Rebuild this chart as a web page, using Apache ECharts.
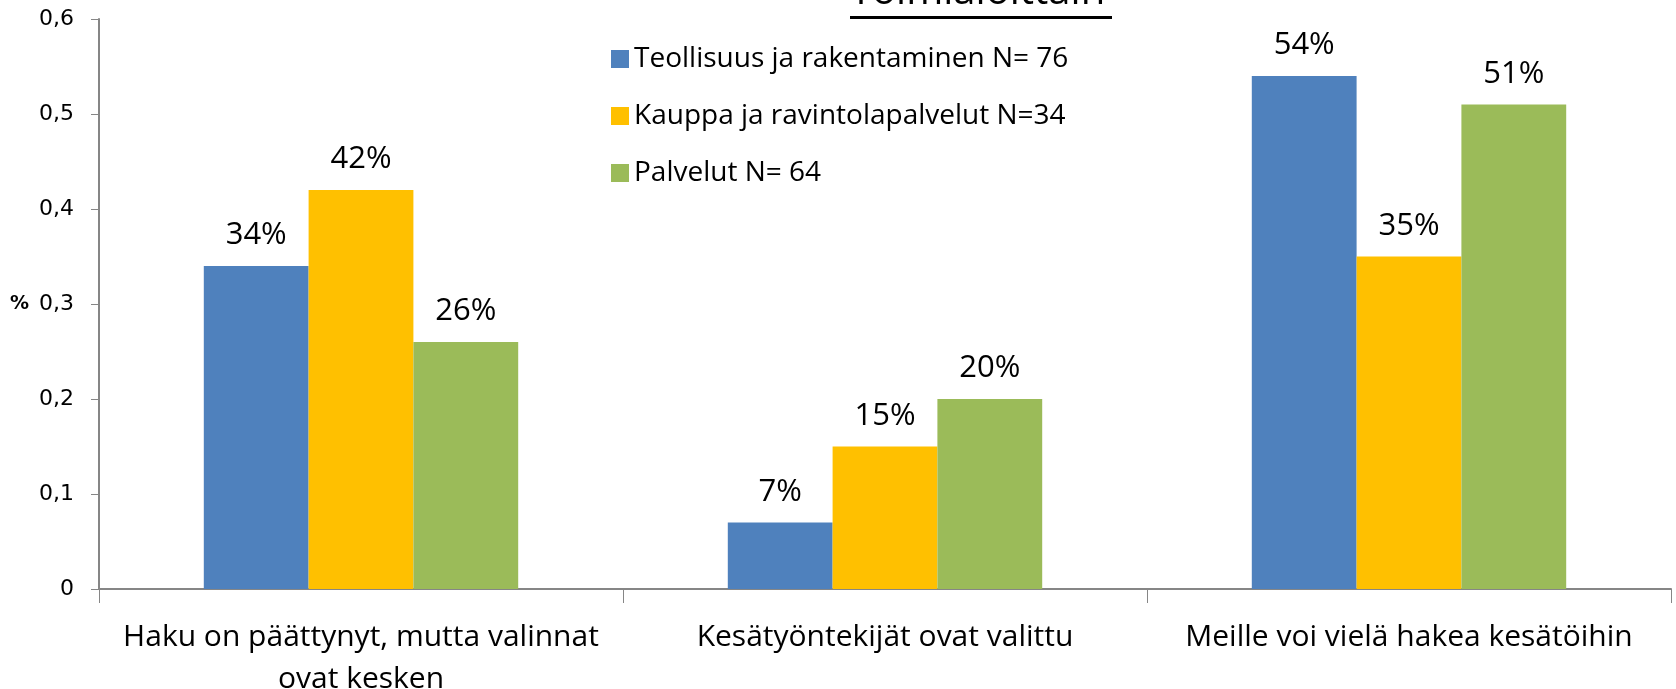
<!DOCTYPE html>
<html>
<head>
<meta charset="utf-8">
<script src="https://cdn.jsdelivr.net/npm/echarts@6/dist/echarts.min.js"></script>
<style>
  html, body { margin: 0; padding: 0; background: #fff; }
  #chart { width: 1676px; height: 689px; }
</style>
</head>
<body>
<div id="chart"></div>
<script>
  // categories (x axis)
  var categories = [
    'Haku on päättynyt, mutta valinnat\novat kesken',
    'Kesätyöntekijät ovat valittu',
    'Meille voi vielä hakea kesätöihin'
  ]
  // series
  var seriesNames = [
    'Teollisuus ja rakentaminen N= 76',
    'Kauppa ja ravintolapalvelut N=34',
    'Palvelut N= 64'
  ]
  var teollisuus = [0.34, 0.07, 0.54]
  var kauppa = [0.42, 0.15, 0.35]
  var palvelut = [0.26, 0.20, 0.51]
  var colors = ['#4F81BD', '#FFC000', '#9BBB59']
  var fontName = 'Open Sans'
  var axisFont = 'DejaVu Sans'

  var dom = echarts.init(document.getElementById('chart'))

  function pct(p) {
    return Math.round(p.value * 100) + '%'
  }

  function makeSeries(name, data, color) {
    return {
      name: name,
      type: 'bar',
      data: data,
      barGap: '0%',
      barCategoryGap: '40%',
      itemStyle: { color: color },
      label: {
        show: true,
        position: 'top',
        distance: 15,
        formatter: pct,
        color: '#000',
        fontFamily: fontName,
        fontSize: 31
      }
    }
  }

  var option = {
    animation: false,
    backgroundColor: '#fff',
    grid: {
      left: 99,
      right: 5,
      top: 19,
      bottom: 100,
      containLabel: false,
      outerBoundsMode: 'none'
    },
    legend: {
      orient: 'vertical',
      left: 611,
      top: 45,
      padding: 0,
      itemWidth: 18,
      itemHeight: 18,
      itemGap: 29,
      icon: 'rect',
      textStyle: {
        fontFamily: fontName,
        fontSize: 28,
        color: '#000'
      },
      data: seriesNames
    },
    graphic: [{
      type: 'text',
      left: 850,
      top: -27,
      style: {
        text: 'Toimialoittain',
        fontFamily: fontName,
        fontSize: 40,
        fill: '#000'
      }
    }, {
      type: 'rect',
      shape: { x: 850, y: 16, width: 262, height: 3 },
      style: { fill: '#000' }
    }],
    xAxis: {
      type: 'category',
      data: categories,
      axisLine: { lineStyle: { color: '#868686', width: 2 } },
      axisTick: { show: true, length: 14, lineStyle: { color: '#868686' } },
      axisLabel: {
        interval: 0,
        hideOverlap: false,
        margin: 27,
        color: '#000',
        fontFamily: fontName,
        fontSize: 30,
        lineHeight: 42
      }
    },
    yAxis: {
      type: 'value',
      min: 0,
      max: 0.6,
      interval: 0.1,
      name: '%',
      nameLocation: 'middle',
      nameRotate: 0,
      nameGap: 70,
      nameTextStyle: {
        fontFamily: axisFont,
        fontSize: 19,
        fontWeight: 'bold',
        color: '#000'
      },
      splitLine: { show: false },
      axisLine: { show: true, lineStyle: { color: '#868686', width: 2 } },
      axisTick: { show: true, inside: false, length: 8, lineStyle: { color: '#868686' } },
      axisLabel: {
        margin: 25,
        color: '#000',
        fontFamily: axisFont,
        fontSize: 22,
        formatter: function (v) {
          return v === 0 ? '0' : v.toFixed(1).replace('.', ',')
        }
      }
    },
    series: [
      makeSeries(seriesNames[0], teollisuus, colors[0]),
      makeSeries(seriesNames[1], kauppa, colors[1]),
      makeSeries(seriesNames[2], palvelut, colors[2])
    ]
  }

  dom.setOption(option)
  window.addEventListener('resize', function () { dom.resize() })
</script>
</body>
</html>
